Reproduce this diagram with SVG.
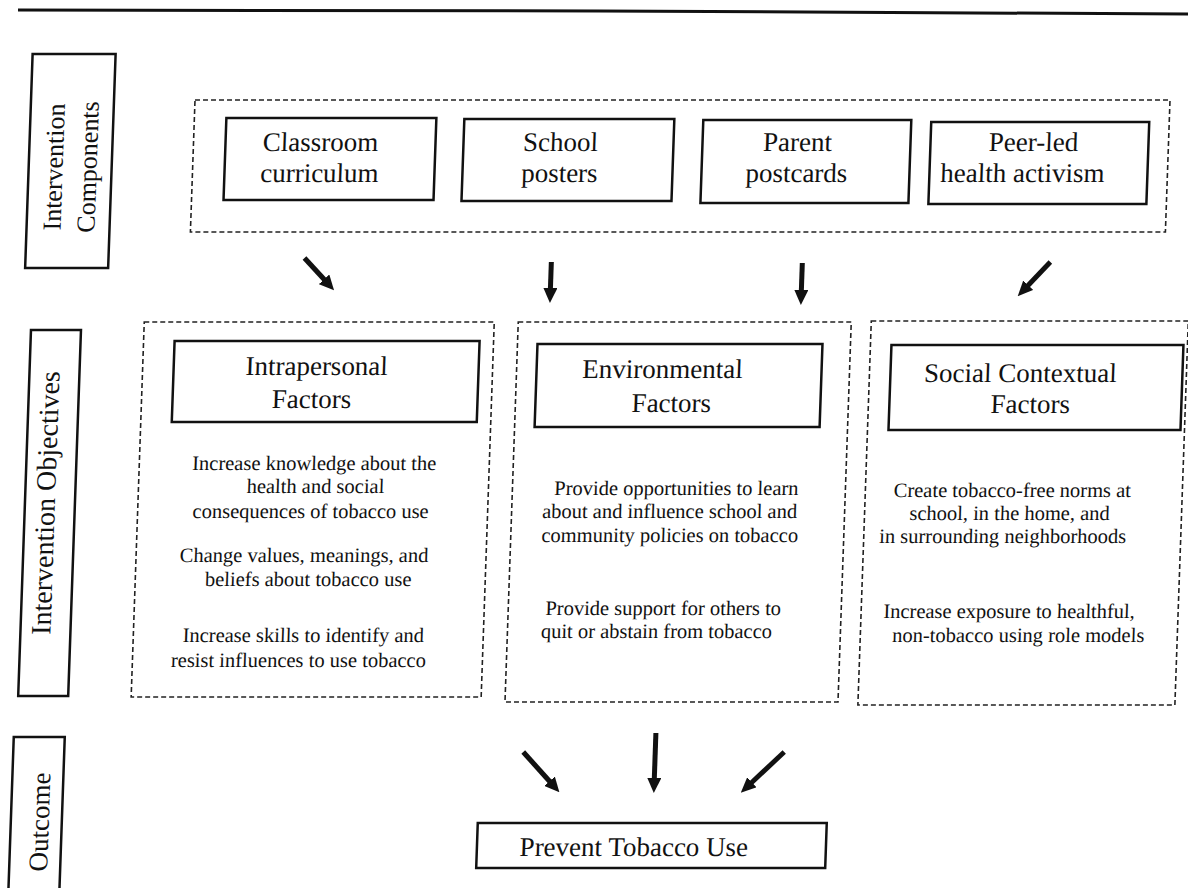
<svg xmlns="http://www.w3.org/2000/svg" width="1188" height="888" viewBox="0 0 1188 888">
<style>
text{font-family:"Liberation Serif","Times New Roman",serif;fill:#111}
.t{font-size:27px;text-anchor:middle}
.b{font-size:20.5px;text-anchor:middle}
.lab{text-anchor:middle}
.solid{fill:none;stroke:#111;stroke-width:2.5}
.dash{fill:none;stroke:#222;stroke-width:1.6;stroke-dasharray:5 3}
.arr{stroke:#111;stroke-width:5;fill:none}
</style>
<defs>
<marker id="ah" viewBox="0 0 15 14" refX="1" refY="7" markerWidth="15" markerHeight="14" markerUnits="userSpaceOnUse" orient="auto">
<path d="M0,0 L15,7 L0,14 z" fill="#111"/>
</marker>
</defs>
<rect width="1188" height="888" fill="#fff"/>
<polyline points="18,10 600,11 1188,14" fill="none" stroke="#111" stroke-width="3"/>
<g transform="translate(15.5,0) skewX(-2)">
<g id="label-components">
<rect class="solid" x="19" y="54" width="83" height="214"/>
<text class="lab" font-size="26" transform="translate(53,167) rotate(-90)">Intervention</text>
<text class="lab" font-size="26" transform="translate(87,167) rotate(-90)">Components</text>
</g>
<g id="label-objectives">
<rect class="solid" x="27" y="330" width="50" height="366"/>
<text class="lab" font-size="28" transform="translate(57,503) rotate(-90)">Intervention Objectives</text>
</g>
<g id="label-outcome">
<rect class="solid" x="24" y="737" width="51" height="170"/>
<text class="lab" font-size="27" transform="translate(62,822) rotate(-90)">Outcome</text>
</g>
<g id="components-group">
<rect class="dash" x="183" y="100" width="975" height="132"/>
</g>
<g id="classroom">
<rect class="solid" x="215" y="118" width="210" height="82"/>
<text class="t" x="310" y="151">Classroom</text>
<text class="t" x="310" y="182">curriculum</text>
</g>
<g id="posters">
<rect class="solid" x="453" y="119" width="210" height="82"/>
<text class="t" x="550" y="151">School</text>
<text class="t" x="550" y="182">posters</text>
</g>
<g id="postcards">
<rect class="solid" x="692" y="120" width="208" height="83"/>
<text class="t" x="787" y="151">Parent</text>
<text class="t" x="787" y="182">postcards</text>
</g>
<g id="peer">
<rect class="solid" x="920" y="122" width="218" height="82"/>
<text class="t" x="1023" y="151">Peer-led</text>
<text class="t" x="1013" y="182">health activism</text>
</g>
<g id="intrapersonal">
<rect class="dash" x="140" y="322" width="350" height="375"/>
<rect class="solid" x="171" y="341" width="305" height="81"/>
<text class="t" x="314" y="375">Intrapersonal</text>
<text class="t" x="310" y="408">Factors</text>
<text class="b" x="315" y="470">Increase knowledge about the</text>
<text class="b" x="317" y="493">health and social</text>
<text class="b" x="313" y="518">consequences of tobacco use</text>
<text class="b" x="308" y="562">Change values, meanings, and</text>
<text class="b" x="313" y="586">beliefs  about tobacco use</text>
<text class="b" x="310" y="642">Increase skills to identify and</text>
<text class="b" x="306" y="667">resist influences to use tobacco</text>
</g>
<g id="environmental">
<rect class="dash" x="514" y="322" width="333" height="380"/>
<rect class="solid" x="534" y="344" width="285" height="83"/>
<text class="t" x="660" y="378">Environmental</text>
<text class="t" x="670" y="412">Factors</text>
<text class="b" x="678" y="495">Provide opportunities to learn</text>
<text class="b" x="672" y="518">about and influence school and</text>
<text class="b" x="673" y="542">community policies on tobacco</text>
<text class="b" x="669" y="615">Provide support  for others to</text>
<text class="b" x="663" y="638">quit or abstain from tobacco</text>
</g>
<g id="social">
<rect class="dash" x="867" y="321" width="317" height="384"/>
<rect class="solid" x="888" y="345" width="292" height="85"/>
<text class="t" x="1018" y="382">Social Contextual</text>
<text class="t" x="1029" y="413">Factors</text>
<text class="b" x="1014" y="497">Create tobacco-free  norms at</text>
<text class="b" x="1012" y="520">school, in the home, and</text>
<text class="b" x="1006" y="543">in surrounding neighborhoods</text>
<text class="b" x="1015" y="618">Increase exposure to healthful,</text>
<text class="b" x="1025" y="642">non-tobacco using role models</text>
</g>
<g id="outcome">
<rect class="solid" x="491" y="823" width="349" height="45" stroke-width="2"/>
<text class="t" x="648" y="856">Prevent Tobacco Use</text>
</g>
<g id="connectors">
<line class="arr" x1="298" y1="258" x2="319" y2="280" marker-end="url(#ah)"/>
<line class="arr" x1="545" y1="262" x2="545" y2="289" marker-end="url(#ah)"/>
<line class="arr" x1="796" y1="263" x2="796" y2="291" marker-end="url(#ah)"/>
<line class="arr" x1="1044" y1="262" x2="1022" y2="286" marker-end="url(#ah)"/>
<line class="arr" x1="534" y1="752" x2="562" y2="782" marker-end="url(#ah)"/>
<line class="arr" x1="666" y1="733" x2="666" y2="779" marker-end="url(#ah)" stroke-width="4"/>
<line class="arr" x1="795" y1="752" x2="763" y2="783" marker-end="url(#ah)"/>
</g>
</g>
</svg>
